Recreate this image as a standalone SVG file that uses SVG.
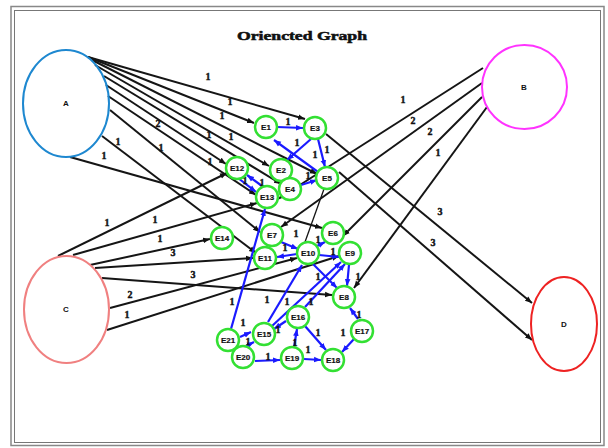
<svg xmlns="http://www.w3.org/2000/svg" width="608" height="448" viewBox="0 0 608 448">
<defs>
<marker id="ak" markerUnits="userSpaceOnUse" markerWidth="8" markerHeight="8" refX="7" refY="4" orient="auto"><path d="M0,1.2 L7,4 L0,6.8 z" fill="#111"/></marker>
<marker id="ab" markerUnits="userSpaceOnUse" markerWidth="8" markerHeight="8" refX="7" refY="4" orient="auto"><path d="M0,1.2 L7,4 L0,6.8 z" fill="#1a1aff"/></marker>
</defs>
<style>
.k{stroke:#151515;stroke-width:2;fill:none;marker-end:url(#ak)}
.t{stroke:#151515;stroke-width:1.3;fill:none}
.b{stroke:#1a1aff;stroke-width:2.2;fill:none;marker-end:url(#ab)}
.w{font-family:"Liberation Serif",serif;font-weight:bold;font-size:10px;fill:#111;stroke:#111;stroke-width:0.4;text-anchor:middle}
.g{fill:#fff;stroke:#33e033;stroke-width:2.5}
.n{font-family:"Liberation Sans",Arial,sans-serif;font-weight:bold;font-size:8px;fill:#111;stroke:#111;stroke-width:0.2;text-anchor:middle}
.big{font-family:"Liberation Sans",Arial,sans-serif;font-weight:bold;font-size:8px;fill:#111;text-anchor:middle}
</style>
<rect x="0" y="0" width="608" height="448" fill="#fff"/>
<rect x="11" y="6.5" width="593" height="439" fill="none" stroke="#888" stroke-width="1.5"/>
<rect x="14.5" y="10.5" width="586" height="432" fill="none" stroke="#777" stroke-width="1"/>
<text x="302" y="40" font-family="Liberation Serif,serif" font-weight="900" font-size="12" text-anchor="middle" textLength="130" lengthAdjust="spacingAndGlyphs" fill="#111" stroke="#111" stroke-width="0.5">Oriencted Graph</text>
<g id="connectors">
<line class="k" x1="88" y1="57" x2="305" y2="119"/>
<line class="k" x1="88" y1="57" x2="254" y2="123"/>
<line class="k" x1="92" y1="60" x2="317" y2="174"/>
<line class="k" x1="95" y1="65" x2="269" y2="166"/>
<line class="k" x1="104" y1="76" x2="281" y2="184"/>
<line class="k" x1="108" y1="96" x2="256" y2="195"/>
<line class="k" x1="106" y1="85" x2="226" y2="164"/>
<line class="k" x1="110" y1="110" x2="260" y2="232"/>
<line class="k" x1="102" y1="136" x2="256" y2="253"/>
<line class="k" x1="70" y1="157" x2="322" y2="228"/>
<line class="k" x1="58" y1="256" x2="227" y2="173"/>
<line class="k" x1="73" y1="255" x2="257" y2="203"/>
<line class="k" x1="90" y1="265" x2="210" y2="239"/>
<line class="k" x1="95" y1="268" x2="253" y2="258"/>
<line class="k" x1="102" y1="278" x2="332" y2="295"/>
<line class="k" x1="110" y1="308" x2="297" y2="258"/>
<line class="k" x1="107" y1="330" x2="339" y2="256"/>
<line class="k" x1="483" y1="68" x2="278" y2="199"/>
<line class="k" x1="482" y1="83" x2="281" y2="227"/>
<line class="k" x1="482" y1="97" x2="343" y2="236"/>
<line class="k" x1="487" y1="107" x2="354" y2="288"/>
<line class="k" x1="326" y1="134" x2="532" y2="303"/>
<line class="k" x1="339" y1="172" x2="532" y2="340"/>
<line class="t" x1="324" y1="189" x2="305" y2="242"/>
<line class="b" x1="277" y1="127" x2="303" y2="128"/>
<line class="b" x1="311" y1="139" x2="287" y2="160"/>
<line class="b" x1="318" y1="139" x2="325" y2="167"/>
<line class="b" x1="318" y1="172" x2="274" y2="140"/>
<line class="b" x1="301" y1="185" x2="317" y2="180"/>
<line class="b" x1="238" y1="178" x2="256" y2="192"/>
<line class="b" x1="262" y1="186" x2="247" y2="175"/>
<line class="b" x1="231" y1="329" x2="265" y2="209"/>
<line class="b" x1="281" y1="242" x2="298" y2="249"/>
<line class="b" x1="317" y1="246" x2="325" y2="242"/>
<line class="b" x1="297" y1="254" x2="277" y2="257"/>
<line class="b" x1="319" y1="255" x2="339" y2="257"/>
<line class="b" x1="349" y1="265" x2="347" y2="286"/>
<line class="b" x1="313" y1="264" x2="337" y2="288"/>
<line class="b" x1="268" y1="322" x2="302" y2="265"/>
<line class="b" x1="272" y1="326" x2="341" y2="262"/>
<line class="b" x1="305" y1="307" x2="345" y2="264"/>
<line class="b" x1="240" y1="337" x2="251" y2="332"/>
<line class="b" x1="246" y1="346" x2="254" y2="342"/>
<line class="b" x1="255" y1="361" x2="280" y2="360"/>
<line class="b" x1="294" y1="347" x2="297" y2="329"/>
<line class="b" x1="305" y1="326" x2="326" y2="350"/>
<line class="b" x1="304" y1="359" x2="321" y2="360"/>
<line class="b" x1="354" y1="339" x2="342" y2="352"/>
<line class="b" x1="358" y1="319" x2="350" y2="308"/>
<line class="b" x1="286" y1="321" x2="274" y2="329"/>
</g>
<g id="labels">
<text class="w" x="208" y="80">1</text>
<text class="w" x="230" y="105">1</text>
<text class="w" x="222" y="119">1</text>
<text class="w" x="158" y="127">2</text>
<text class="w" x="209" y="138">1</text>
<text class="w" x="231" y="140">1</text>
<text class="w" x="118" y="145">1</text>
<text class="w" x="161" y="151">1</text>
<text class="w" x="104" y="159">1</text>
<text class="w" x="210" y="165">1</text>
<text class="w" x="107" y="226">1</text>
<text class="w" x="155" y="223">1</text>
<text class="w" x="160" y="242">1</text>
<text class="w" x="173" y="256">3</text>
<text class="w" x="193" y="278">3</text>
<text class="w" x="130" y="298">2</text>
<text class="w" x="127" y="318">1</text>
<text class="w" x="403" y="103">1</text>
<text class="w" x="413" y="124">2</text>
<text class="w" x="430" y="135">2</text>
<text class="w" x="438" y="156">1</text>
<text class="w" x="440" y="215">3</text>
<text class="w" x="433" y="246">3</text>
<text class="w" x="288" y="125">1</text>
<text class="w" x="297" y="146">1</text>
<text class="w" x="315" y="158">1</text>
<text class="w" x="327" y="153">1</text>
<text class="w" x="308" y="179">1</text>
<text class="w" x="245" y="184">1</text>
<text class="w" x="262" y="186">1</text>
<text class="w" x="296" y="237">1</text>
<text class="w" x="318" y="243">1</text>
<text class="w" x="285" y="251">1</text>
<text class="w" x="333" y="255">1</text>
<text class="w" x="358" y="280">1</text>
<text class="w" x="318" y="280">1</text>
<text class="w" x="267" y="303">1</text>
<text class="w" x="287" y="305">1</text>
<text class="w" x="311" y="305">1</text>
<text class="w" x="232" y="305">1</text>
<text class="w" x="243" y="326">1</text>
<text class="w" x="248" y="345">1</text>
<text class="w" x="278" y="333">1</text>
<text class="w" x="295" y="346">1</text>
<text class="w" x="318" y="336">1</text>
<text class="w" x="308" y="353">1</text>
<text class="w" x="268" y="360">1</text>
<text class="w" x="343" y="336">1</text>
<text class="w" x="359" y="318">1</text>
</g>
<g id="A"><ellipse cx="66" cy="103.5" rx="43" ry="53.5" fill="none" stroke="#1e88d0" stroke-width="2"/><text class="big" x="66" y="106">A</text></g>
<g id="B"><ellipse cx="524.5" cy="87" rx="42.5" ry="42" fill="none" stroke="#ff33ff" stroke-width="2"/><text class="big" x="524" y="90">B</text></g>
<g id="C"><ellipse cx="66.5" cy="309.5" rx="42.5" ry="53.5" fill="none" stroke="#f08080" stroke-width="2"/><text class="big" x="66" y="312">C</text></g>
<g id="D"><ellipse cx="564" cy="324" rx="33" ry="47" fill="none" stroke="#ee2222" stroke-width="2"/><text class="big" x="564" y="327">D</text></g>
<g id="E1"><circle class="g" cx="266" cy="127" r="11"/><text class="n" x="266" y="130">E1</text></g>
<g id="E2"><circle class="g" cx="281" cy="170" r="11"/><text class="n" x="281" y="173">E2</text></g>
<g id="E3"><circle class="g" cx="315" cy="128" r="11"/><text class="n" x="315" y="131">E3</text></g>
<g id="E4"><circle class="g" cx="290" cy="189" r="11"/><text class="n" x="290" y="192">E4</text></g>
<g id="E5"><circle class="g" cx="327" cy="178" r="11"/><text class="n" x="327" y="181">E5</text></g>
<g id="E6"><circle class="g" cx="333" cy="233" r="11"/><text class="n" x="333" y="236">E6</text></g>
<g id="E7"><circle class="g" cx="272" cy="235" r="11"/><text class="n" x="272" y="238">E7</text></g>
<g id="E8"><circle class="g" cx="344" cy="297" r="11"/><text class="n" x="344" y="300">E8</text></g>
<g id="E9"><circle class="g" cx="350" cy="253" r="11"/><text class="n" x="350" y="256">E9</text></g>
<g id="E10"><circle class="g" cx="308" cy="253" r="11"/><text class="n" x="308" y="256">E10</text></g>
<g id="E11"><circle class="g" cx="265" cy="258" r="11"/><text class="n" x="265" y="261">E11</text></g>
<g id="E12"><circle class="g" cx="237" cy="168" r="11"/><text class="n" x="237" y="171">E12</text></g>
<g id="E13"><circle class="g" cx="267" cy="197" r="11"/><text class="n" x="267" y="200">E13</text></g>
<g id="E14"><circle class="g" cx="222" cy="238" r="11"/><text class="n" x="222" y="241">E14</text></g>
<g id="E15"><circle class="g" cx="264" cy="334" r="11"/><text class="n" x="264" y="337">E15</text></g>
<g id="E16"><circle class="g" cx="298" cy="317" r="11"/><text class="n" x="298" y="320">E16</text></g>
<g id="E17"><circle class="g" cx="362" cy="331" r="11"/><text class="n" x="362" y="334">E17</text></g>
<g id="E18"><circle class="g" cx="333" cy="360" r="11"/><text class="n" x="333" y="363">E18</text></g>
<g id="E19"><circle class="g" cx="292" cy="358" r="11"/><text class="n" x="292" y="361">E19</text></g>
<g id="E20"><circle class="g" cx="243" cy="357" r="11"/><text class="n" x="243" y="360">E20</text></g>
<g id="E21"><circle class="g" cx="228" cy="340" r="11"/><text class="n" x="228" y="343">E21</text></g>
</svg>
